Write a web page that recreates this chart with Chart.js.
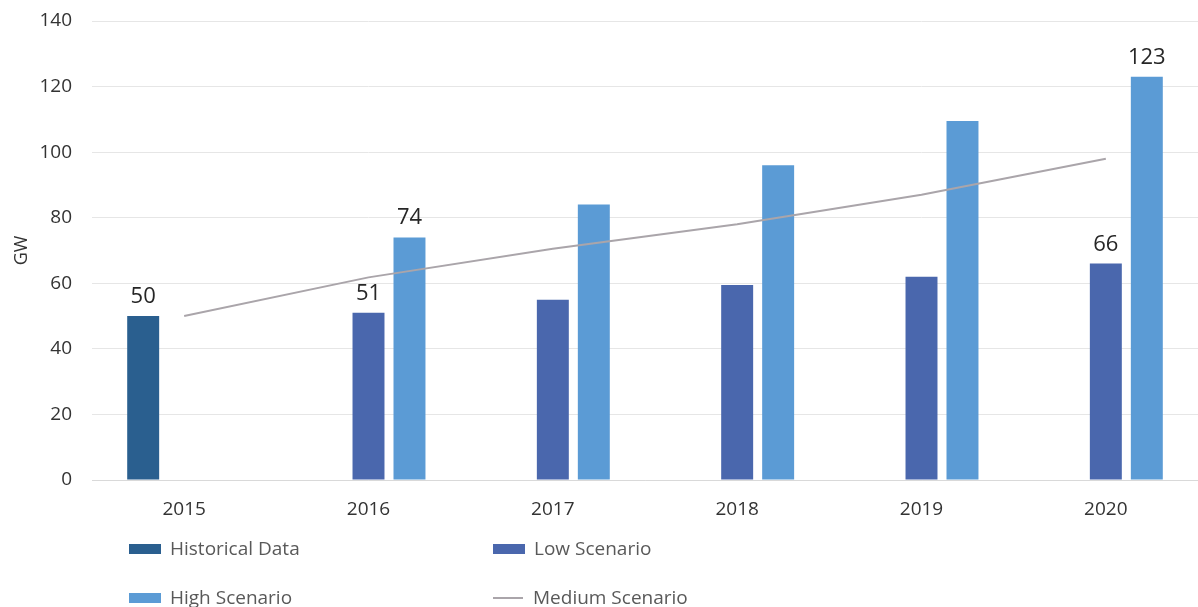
<!DOCTYPE html>
<html>
<head>
<meta charset="utf-8">
<script src="https://cdn.jsdelivr.net/npm/chart.js@4"></script>
<style>
  body { margin: 0; background: #fff; }
  #contenedor { position: relative; width: 1198px; height: 607px; font-family: "Open Sans", sans-serif; }
  #grafica { position: absolute; left: 0; top: 0; }
  .leyenda { position: absolute; display: flex; align-items: center; font-size: 19px; color: #595959; line-height: 1; }
  .muestra { width: 32px; height: 10px; margin-right: 9px; }
  .linea { width: 30px; height: 2px; margin-right: 10px; }
</style>
</head>
<body>
<div id="contenedor">
  <canvas id="grafica" width="1198" height="607"></canvas>
  <div class="leyenda" style="left:129px; top:539px;"><span class="muestra" style="background:#2a5f8f"></span>Historical Data</div>
  <div class="leyenda" style="left:493px; top:539px;"><span class="muestra" style="background:#4a67ad"></span>Low Scenario</div>
  <div class="leyenda" style="left:129px; top:588px;"><span class="muestra" style="background:#5b9bd5"></span>High Scenario</div>
  <div class="leyenda" style="left:493px; top:588px;"><span class="linea" style="background:#aaa5aa"></span>Medium Scenario</div>
</div>
<script>
const anios = ['2015', '2016', '2017', '2018', '2019', '2020'];
const historico = [50, null, null, null, null, null];
const escenarioBajo = [null, 51, 55, 59.5, 62, 66];
const escenarioAlto = [null, 74, 84, 96, 109.5, 123];
const escenarioMedio = [50, 61.8, 70.5, 78, 87, 98];
// [dataset, indice] de las barras que llevan su valor encima
const etiquetasValor = [[1, 0], [2, 1], [3, 1], [2, 5], [3, 5]];

const fuente = '"Open Sans", sans-serif';

const pluginValores = {
  id: 'valores',
  afterDatasetsDraw(chart) {
    const ctx = chart.ctx;
    ctx.save();
    ctx.font = `22px ${fuente}`;
    ctx.fillStyle = '#262626';
    ctx.textAlign = 'center';
    ctx.textBaseline = 'alphabetic';
    etiquetasValor.forEach(([d, i]) => {
      const barra = chart.getDatasetMeta(d).data[i];
      const valor = chart.data.datasets[d].data[i];
      ctx.fillText(String(Math.round(valor)), barra.x, barra.y - 13);
    });
    ctx.restore();
  }
};

const barra = (label, data, color) => ({
  type: 'bar',
  label: label,
  data: data,
  backgroundColor: color,
  categoryPercentage: 0.667,
  barPercentage: 0.78,
  order: 1
});

new Chart(document.getElementById('grafica'), {
  data: {
    labels: anios,
    datasets: [
      {
        type: 'line',
        label: 'Medium Scenario',
        data: escenarioMedio,
        borderColor: '#aaa5aa',
        borderWidth: 2,
        pointRadius: 0,
        tension: 0,
        fill: false,
        order: 0
      },
      barra('Historical Data', historico, '#2a5f8f'),
      barra('Low Scenario', escenarioBajo, '#4a67ad'),
      barra('High Scenario', escenarioAlto, '#5b9bd5')
    ]
  },
  options: {
    responsive: false,
    animation: false,
    layout: { padding: { top: 21, right: 0, bottom: 77, left: 0 } },
    plugins: { legend: { display: false }, tooltip: { enabled: false } },
    scales: {
      x: {
        grid: { display: false, drawTicks: false },
        border: { color: '#d9d9d9', width: 1 },
        ticks: { color: '#333333', font: { family: fuente, size: 19 }, padding: 18 },
        afterFit: s => { s.height = 50; }
      },
      y: {
        min: 0,
        max: 140,
        ticks: { stepSize: 20, color: '#333333', font: { family: fuente, size: 19 }, padding: 0 },
        // marcas invisibles para separar las etiquetas del area
        grid: { color: '#e6e6e6', drawTicks: true, tickLength: 20, tickColor: 'transparent' },
        border: { display: false },
        title: { display: true, text: 'GW', color: '#333333', font: { family: fuente, size: 18 }, padding: { top: 11, bottom: 0 } },
        afterFit: s => { s.width = 92; }
      }
    }
  },
  plugins: [pluginValores]
});
</script>
</body>
</html>
